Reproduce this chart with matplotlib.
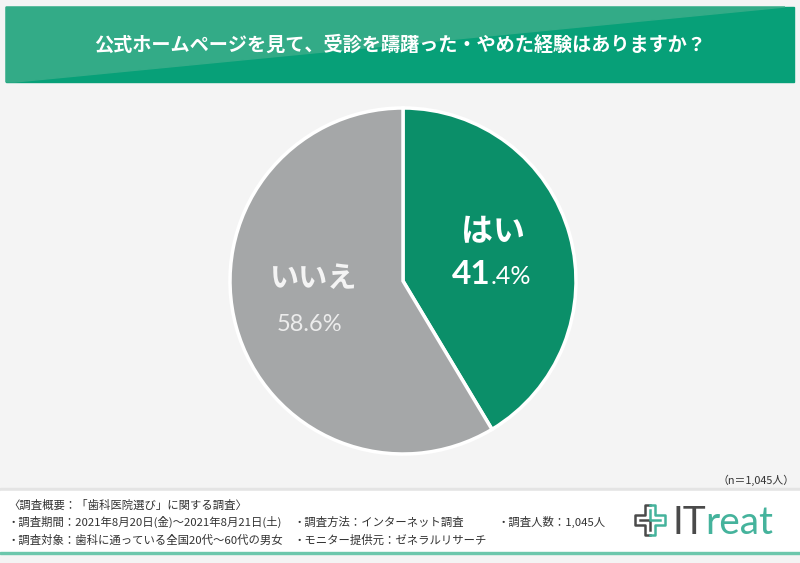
import matplotlib.pyplot as plt
from matplotlib.patches import Rectangle, Polygon

plt.rcParams['font.family'] = ['Noto Sans CJK JP', 'DejaVu Sans']

title = "公式ホームページを見て、受診を躊躇った・やめた経験はありますか？"
labels = ["はい", "いいえ"]
values = [41.4, 58.6]
colors = ["#0b8f69", "#a5a7a8"]
sample_note = "（n＝1,045人）"
footer_lines = [
    [(8, "〈調査概要：「歯科医院選び」に関する調査〉")],
    [(8, "・調査期間：2021年8月20日(金)～2021年8月21日(土)"),
     (293, "・調査方法：インターネット調査"),
     (497, "・調査人数：1,045人")],
    [(8, "・調査対象：歯科に通っている全国20代～60代の男女"),
     (293, "・モニター提供元：ゼネラルリサーチ")],
]

W, H = 800, 563
fig = plt.figure(figsize=(W / 100, H / 100), dpi=100)
fig.patch.set_facecolor("#f4f4f4")

# pie
cx, cy, r = 403, 282, 173
ax = fig.add_axes([(cx - r) / W, (cy - r) / H, 2 * r / W, 2 * r / H])
ax.pie(values, colors=colors, startangle=90, counterclock=False,
       wedgeprops=dict(edgecolor="white", linewidth=2.5))
ax.set_xlim(-1, 1)
ax.set_ylim(-1, 1)
ax.set_aspect("equal")

# overlay layer in pixel coords (y down)
bg = fig.add_axes([0, 0, 1, 1])
bg.set_xlim(0, W)
bg.set_ylim(H, 0)
bg.axis("off")
bg.set_zorder(5)

# title banner
bg.add_patch(Rectangle((6, 7), 788, 75, color="#07a078", zorder=1))
bg.add_patch(Polygon([(6, 7), (785, 7), (15, 82), (6, 82)], color="#33ab87", zorder=2))
bg.text(400, 45, title, color="white", fontsize=13.8, fontweight="bold",
        ha="center", va="center", zorder=3)

# footer box
bg.add_patch(Rectangle((0, 488), W, 3, color="#e4e4e4", zorder=1))
bg.add_patch(Rectangle((0, 491), W, 61, color="white", zorder=1))
bg.add_patch(Rectangle((0, 552), W, 2, color="#6cc7ac", zorder=2))
bg.text(795, 480, sample_note, fontsize=7.8, color="#333333", ha="right", va="center")
for row, items in zip([505, 522, 540], footer_lines):
    for x, s in items:
        bg.text(x, row, s, fontsize=8.2, color="#333333", ha="left", va="center")

# logo
dark, teal = "#4a4a4a", "#45b39c"
bg.plot([650, 645, 645, 635, 635, 645, 645, 650], [535, 535, 525, 525, 515, 515, 505, 505],
        color=dark, lw=1.8)
bg.plot([650, 655, 655, 665, 665, 655, 655, 650], [505, 505, 515, 515, 525, 525, 535, 535],
        color=teal, lw=1.8)
bg.plot([640, 650, 650], [520, 520, 530], color=dark, lw=1.8)
bg.plot([650, 650, 660], [510, 520, 520], color=teal, lw=1.8)
bg.text(673, 534, "IT", fontsize=28, color=dark, ha="left", va="baseline",
        family=["Lato", "DejaVu Sans"])
bg.text(705, 534, "reat", fontsize=28, color=teal, ha="left", va="baseline",
        family=["Lato", "DejaVu Sans"])

# slice labels
bg.text(493, 232, labels[0], fontsize=23, fontweight="bold", color="white",
        ha="center", va="center")
bg.text(491, 284, "41", fontsize=24, fontweight="bold", color="white",
        ha="right", va="baseline", family=["Lato", "DejaVu Sans"])
bg.text(491, 284, ".4%", fontsize=18, color="white",
        ha="left", va="baseline", family=["Lato", "DejaVu Sans"])
bg.text(314, 278, labels[1], fontsize=21, fontweight="bold", color="#f4f4f4",
        ha="center", va="center")
bg.text(310, 331, "58.6%", fontsize=17, color="#ececec",
        ha="center", va="baseline", family=["Lato", "DejaVu Sans"])

fig.savefig("out.png", dpi=100, facecolor=fig.get_facecolor())
